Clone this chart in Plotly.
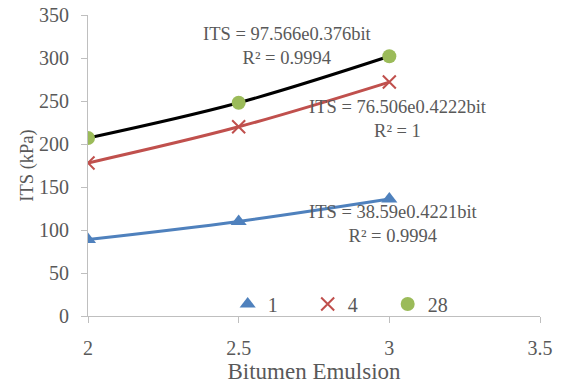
import plotly.graph_objects as go

bitumen = [2, 2.5, 3]
its_1 = [89, 110, 136]
its_4 = [178, 220, 272]
its_28 = [207, 248, 302]

series_names = ["1", "4", "28"]
series_vals = [its_1, its_4, its_28]
marker_colors = ["#4F81BD", "#C0504D", "#9BBB59"]
line_colors = ["#4F81BD", "#C0504D", "#000000"]
marker_symbols = ["triangle-up", "x-thin", "circle"]

eq_texts = ["ITS = 38.59e0.4221bit<br>R² = 0.9994",
            "ITS = 76.506e0.4222bit<br>R² = 1",
            "ITS = 97.566e0.376bit<br>R² = 0.9994"]

FONT = "Liberation Serif"
GREY = "#595959"
PAD = "\u00a0" * 5

fig = go.Figure()
for vals, lc in zip(series_vals, line_colors):
    fig.add_trace(go.Scatter(x=bitumen, y=vals, mode="lines",
                             line=dict(color=lc, width=3, shape="spline"),
                             showlegend=False, hoverinfo="skip"))
for name, vals, mc, sym in zip(series_names, series_vals, marker_colors, marker_symbols):
    if sym == "x-thin":
        mk = dict(symbol=sym, size=13, color=mc, line=dict(color=mc, width=2))
    else:
        mk = dict(symbol=sym, size=14, color=mc)
    fig.add_trace(go.Scatter(x=bitumen, y=vals, mode="markers", name=name + PAD, marker=mk))

ann_pos = [(3.013, 107), (3.03, 229), (2.661, 314)]
for (ax, ay), t in zip(ann_pos, eq_texts):
    fig.add_annotation(x=ax, y=ay, text=t, showarrow=False, xref="x", yref="y",
                       font=dict(family=FONT, size=18.5, color=GREY), align="center")

axis_common = dict(showline=True, linecolor="#BFBFBF", linewidth=1, showgrid=False,
                   zeroline=False, ticks="outside", tickcolor="#BFBFBF", ticklen=6,
                   automargin=False,
                   tickfont=dict(family=FONT, size=20, color=GREY))

fig.update_layout(
    width=571, height=385,
    margin=dict(l=88, r=31, t=15, b=69),
    paper_bgcolor="white", plot_bgcolor="white",
    xaxis=dict(range=[2, 3.5], tickvals=[2, 2.5, 3, 3.5], ticktext=["2", "2.5", "3", "3.5"],
               ticklabelstandoff=8,
               title=dict(text="Bitumen Emulsion", font=dict(family=FONT, size=23, color=GREY), standoff=0),
               **axis_common),
    yaxis=dict(range=[0, 350], tickvals=[0, 50, 100, 150, 200, 250, 300, 350],
               ticklabelstandoff=8,
               title=dict(text="ITS (kPa)", font=dict(family=FONT, size=18.5, color=GREY), standoff=0),
               **axis_common),
    legend=dict(orientation="h", x=0.309, xanchor="left", y=0.04, yanchor="middle",
                font=dict(family=FONT, size=20, color=GREY), bgcolor="rgba(0,0,0,0)",
                itemwidth=30, tracegroupgap=0),
    showlegend=True,
)

fig.write_html("out.html")
